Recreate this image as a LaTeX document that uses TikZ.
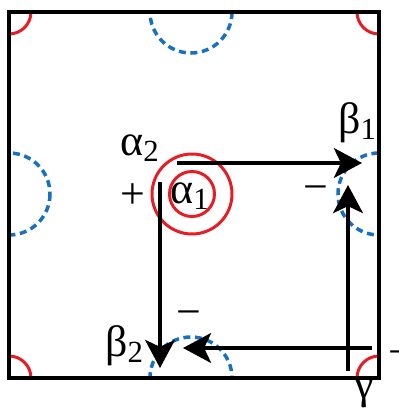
\documentclass[tikz,border=0pt]{standalone}
\usepackage{fontspec}
\setmainfont{Liberation Serif}
\usetikzlibrary{arrows.meta}

\definecolor{ringred}{RGB}{232,28,36}
\definecolor{cutblue}{RGB}{24,112,192}

\begin{document}
\begin{tikzpicture}[
    x=0.02cm, y=-0.02cm,
    ring/.style={ringred, line width=1.7pt},
    cut/.style={cutblue, line width=2pt, dash pattern=on 4pt off 2.6pt},
    flow/.style={-{Stealth[length=16pt, width=17pt, inset=4pt]}, line width=2pt},
    lbl/.style={font=\fontsize{25}{29}\selectfont, inner sep=0pt}
]
\useasboundingbox (0,0) rectangle (399,414);

% Cell
\coordinate (sw) at (9,378);
\coordinate (ne) at (379,12);

% Periodic images, clipped to the cell
\begin{scope}
\clip (sw) rectangle (ne);
\foreach \p in {(9,12),(379,12),(9,378),(379,378)}
  \draw[ring] \p circle[radius=22];
\foreach \p in {(191,12),(191,378),(9,194),(379,194)}
  \draw[cut] \p circle[radius=41];
\end{scope}
\draw[line width=2.2pt] (sw) rectangle (ne);

% Vortex
\coordinate (core) at (192,194);
\draw[ring] (core) circle[radius=22.5];
\draw[ring] (core) circle[radius=40];

% Labels
\node[lbl, anchor=base west] (a2) at (120,155) {α\textsubscript{2}};
\node[lbl, anchor=base west] (a1) at (170,203) {α\textsubscript{1}};
\node[lbl, anchor=base] (plus) at (133,208) {+};
\node[lbl, anchor=base west] (b1) at (338,133) {β\textsubscript{1}};
\node[lbl, anchor=base west] (b2) at (105,356) {β\textsubscript{2}};
\node[lbl, anchor=base] (m1) at (316,201) {−};
\node[lbl, anchor=base] (m2) at (189,326) {−};
\node[lbl, anchor=base west] (m3) at (388,366) {−};
\node[lbl, anchor=base] (g) at (364,398) {γ};

% Loop
\coordinate (top0) at (177,163);
\coordinate (top1) at (362,163);
\coordinate (lft0) at (160,182);
\coordinate (lft1) at (160,368);
\coordinate (bot0) at (372,348);
\coordinate (bot1) at (183,348);
\coordinate (rgt0) at (348,371);
\coordinate (rgt1) at (348,185);

\draw[flow] (top0) -- (top1);
\draw[flow] (lft0) -- (lft1);
\draw[flow] (bot0) -- (bot1);
\draw[flow] (rgt0) -- (rgt1);
\end{tikzpicture}
\end{document}
